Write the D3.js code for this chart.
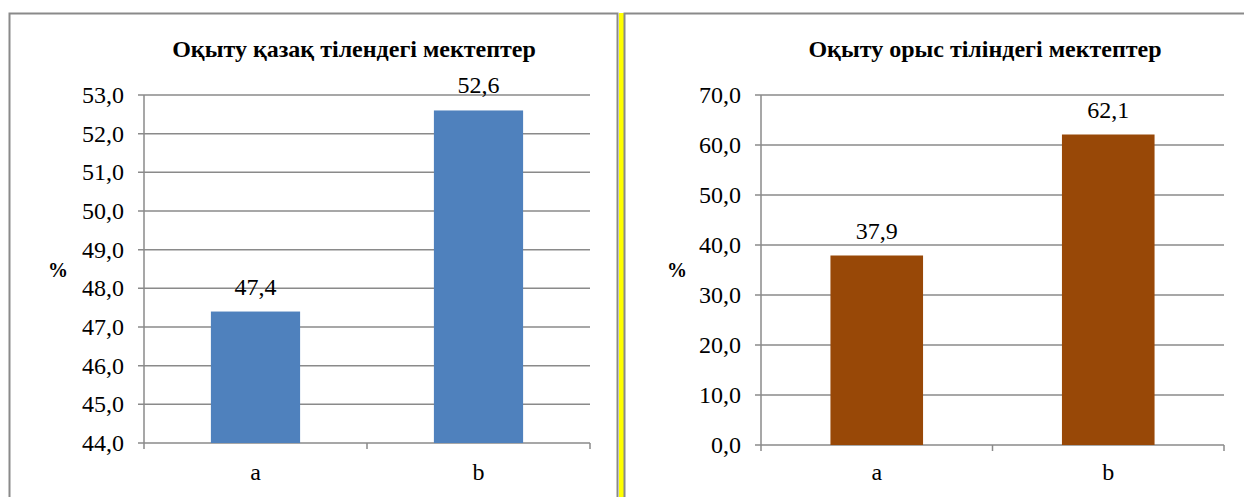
<!DOCTYPE html>
<html><head><meta charset="utf-8">
<script src="https://cdn.jsdelivr.net/npm/d3@7"></script>
<style>
html,body{margin:0;padding:0;background:#fff;}
svg{display:block;}
</style></head><body>
<svg id="c" width="1244" height="497"></svg>
<script>
const categories = ["a", "b"];
const kazValues = [47.4, 52.6];
const rusValues = [37.9, 62.1];
const kazTicks = [44, 45, 46, 47, 48, 49, 50, 51, 52, 53];
const rusTicks = [0, 10, 20, 30, 40, 50, 60, 70];
const titles = ["Оқыту қазақ тілендегі мектептер", "Оқыту орыс тіліндегі мектептер"];
const yLabel = "%";

const FONT = "'Liberation Serif', 'DejaVu Serif', 'Times New Roman', serif";
const svg = d3.select("#c").attr("font-family", FONT);
const fmt = v => d3.format(".1f")(v).replace(".", ",");

// frames
svg.append("rect").attr("x", 9.5).attr("y", 13.5).attr("width", 608).attr("height", 500)
  .attr("fill", "#fff").attr("stroke", "#8a8a8a").attr("stroke-width", 2);
svg.append("rect").attr("x", 619).attr("y", 13).attr("width", 5).attr("height", 490).attr("fill", "#ffff00");
svg.append("rect").attr("x", 624.5).attr("y", 13.5).attr("width", 640).attr("height", 500)
  .attr("fill", "#fff").attr("stroke", "#8a8a8a").attr("stroke-width", 2);

function drawChart(o) {
  const g = svg.append("g");
  const x = d3.scaleBand().domain(categories).range([o.x0, o.x1]).paddingInner(0).paddingOuter(0);
  const y = d3.scaleLinear().domain([o.ticks[0], o.ticks[o.ticks.length - 1]]).range([o.yb, o.yt]);

  g.selectAll("line.grid").data(o.ticks).join("line")
    .attr("x1", o.x0 - 6).attr("x2", o.x1)
    .attr("y1", d => y(d)).attr("y2", d => y(d))
    .attr("stroke", "#8a8a8a").attr("stroke-width", 1.5);
  g.append("line").attr("x1", o.x0).attr("x2", o.x0).attr("y1", o.yt).attr("y2", o.yb)
    .attr("stroke", "#8a8a8a").attr("stroke-width", 1.5);
  const xt = [o.x0, (o.x0 + o.x1) / 2, o.x1];
  g.selectAll("line.xt").data(xt).join("line")
    .attr("x1", d => d).attr("x2", d => d).attr("y1", o.yb).attr("y2", o.yb + 6)
    .attr("stroke", "#8a8a8a").attr("stroke-width", 1.5);

  g.selectAll("text.yl").data(o.ticks).join("text")
    .attr("x", o.x0 - 20).attr("y", d => y(d)).attr("dy", "0.33em")
    .attr("text-anchor", "end").attr("font-size", 24).text(fmt);

  const bw = x.bandwidth() * 0.4;
  g.selectAll("rect.bar").data(o.values).join("rect")
    .attr("x", (d, i) => x(categories[i]) + (x.bandwidth() - bw) / 2)
    .attr("width", bw)
    .attr("y", d => y(d)).attr("height", d => o.yb - y(d))
    .attr("fill", o.color);

  g.selectAll("text.vl").data(o.values).join("text")
    .attr("x", (d, i) => x(categories[i]) + x.bandwidth() / 2)
    .attr("y", d => y(d) - 17)
    .attr("text-anchor", "middle").attr("font-size", 24).text(fmt);

  g.selectAll("text.cl").data(categories).join("text")
    .attr("x", d => x(d) + x.bandwidth() / 2).attr("y", 480)
    .attr("text-anchor", "middle").attr("font-size", 24).text(d => d);

  g.append("text").attr("x", o.tx).attr("y", 57).attr("text-anchor", "middle")
    .attr("font-size", 24).attr("font-weight", "bold").text(o.title);

  g.append("text").attr("x", o.px).attr("y", 277).attr("text-anchor", "middle")
    .attr("font-size", 20).attr("font-weight", "bold").text(yLabel);
}

drawChart({x0: 144, x1: 590, yt: 95, yb: 443, ticks: kazTicks, values: kazValues,
  color: "#4f81bd", title: titles[0], tx: 354, px: 58});
drawChart({x0: 761, x1: 1224, yt: 95, yb: 445, ticks: rusTicks, values: rusValues,
  color: "#984807", title: titles[1], tx: 985, px: 677});
</script></body></html>
